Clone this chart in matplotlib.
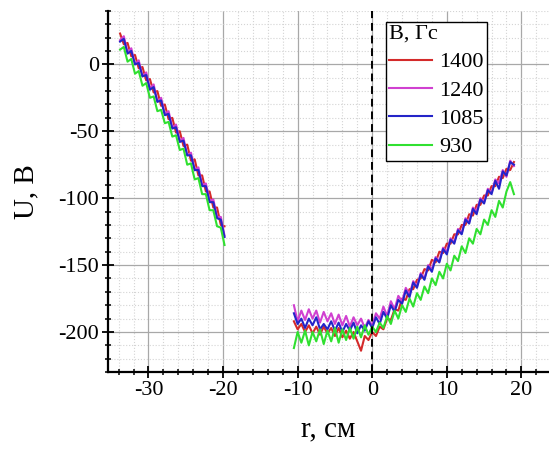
import numpy as np
import matplotlib.pyplot as plt
from matplotlib.ticker import MultipleLocator

plt.rcParams["font.family"] = ["Liberation Serif", "DejaVu Serif"]
plt.rcParams["axes.unicode_minus"] = False

# field values (legend)
fields = ["1400", "1240", "1085", "930"]
colors = ["#d42a2a", "#d040d0", "#2424c8", "#30e030"]

# left branch, r from -33.8 to -19.8 cm
r_left = np.arange(-33.8, -19.75, 0.5)
u_left = {
    "1400": [23, 15, 16, 6, 7, -3, -2, -12, -11, -21, -20, -31, -30, -41, -40,
             -51, -50, -61, -60, -72, -71, -83, -83, -95, -95, -107, -107, -120, -121],
    "1240": [18, 21, 9, 12, 0, 3, -9, -6, -18, -15, -28, -25, -37, -35, -47,
             -45, -57, -55, -68, -66, -79, -77, -90, -89, -102, -101, -114, -114, -128],
    "1085": [17, 19, 8, 10, 0, 1, -9, -8, -19, -17, -28, -27, -38, -37, -48,
             -47, -58, -57, -68, -68, -79, -79, -91, -91, -103, -103, -115, -116, -129],
    "930": [11, 13, 2, 4, -7, -5, -16, -14, -25, -24, -35, -34, -44, -43, -54,
            -53, -64, -63, -75, -74, -86, -85, -97, -97, -109, -109, -121, -122, -135],
}

# right branch, r from -10.5 to 19 cm
r_right = np.arange(-10.5, 19.01, 0.5)
u_right = {
    "1400": [-192, -198, -194, -200, -195, -201, -196, -202, -196, -201, -197, -203,
             -197, -204, -199, -205, -200, -207, -214, -203, -206,
             -200, -203, -196, -198, -190, -191, -183, -184, -175, -176, -168, -168,
             -161, -160, -153, -154, -146, -148, -140, -141, -134, -134, -127, -127,
             -120, -120, -112, -113, -105, -105, -98, -98, -91, -91, -84, -85,
             -78, -79, -73],
    "1240": [-180, -192, -184, -191, -183, -190, -184, -193, -185, -192, -186, -194,
             -187, -195, -188, -196, -189, -195, -190, -197, -191,
             -195, -186, -190, -181, -188, -177, -183, -173, -177, -167, -172, -162,
             -166, -156, -160, -150, -153, -144, -147, -137, -140, -130, -133, -123,
             -126, -115, -118, -107, -110, -100, -103, -93, -96, -86, -89, -79,
             -84, -72, -76],
    "1085": [-186, -194, -190, -197, -190, -195, -189, -198, -194, -198, -192, -199,
             -193, -200, -194, -199, -193, -201, -195, -199, -192,
             -197, -189, -194, -185, -190, -180, -185, -176, -179, -169, -174, -163,
             -167, -157, -161, -151, -155, -145, -148, -138, -142, -131, -134, -124,
             -127, -116, -119, -108, -112, -101, -104, -94, -97, -87, -93, -80,
             -83, -73, -75],
    "930": [-212, -200, -208, -199, -210, -200, -207, -198, -209, -199, -207, -197,
            -208, -198, -206, -197, -205, -196, -204, -195, -202,
            -196, -200, -193, -197, -188, -194, -184, -190, -180, -185, -175, -181,
            -171, -176, -166, -171, -160, -165, -155, -160, -149, -154, -143, -147,
            -136, -141, -130, -134, -123, -127, -116, -120, -109, -114, -102, -107,
            -95, -88, -97],
}

fig = plt.figure(figsize=(5.49, 4.5), dpi=100)
ax = fig.add_axes([0.197, 0.173, 0.803, 0.803])

for f, c in zip(fields, colors):
    ax.plot(r_left, u_left[f], color=c, lw=1.5, label=f)
    ax.plot(r_right, u_right[f], color=c, lw=1.5)

ax.axvline(0, color="black", ls="--", lw=1.4, dashes=(4, 2.5))

ax.set_xlim(-35.4, 23.7)
ax.set_ylim(-230, 40)
ax.set_xticks([-30, -20, -10, 0, 10, 20])
ax.set_yticks([0, -50, -100, -150, -200])
ax.xaxis.set_minor_locator(MultipleLocator(2))
ax.yaxis.set_minor_locator(MultipleLocator(10))

ax.grid(True, which="major", color="#a8a8a8", lw=0.9)
ax.grid(True, which="minor", color="#d4d4d4", lw=0.8, ls=":")
ax.set_axisbelow(True)

ax.spines["top"].set_visible(False)
ax.spines["right"].set_visible(False)
ax.spines["left"].set_linewidth(1.6)
ax.spines["bottom"].set_linewidth(1.6)
ax.tick_params(which="major", direction="inout", length=9, width=1.3,
               labelsize=16, pad=2)
ax.tick_params(which="minor", direction="inout", length=5, width=1.1)

ax.set_xlabel("r, см", fontsize=21, labelpad=12)
ax.set_ylabel("U, B", fontsize=21, labelpad=14)

leg = ax.legend(title="B, Гс", loc="upper right", bbox_to_anchor=(0.86, 0.97),
                borderaxespad=0, fontsize=16, title_fontsize=16, alignment="left",
                frameon=True, fancybox=False, edgecolor="black", framealpha=1,
                handlelength=1.9, handletextpad=0.35, labelspacing=0.35,
                borderpad=0.15)
leg.get_frame().set_linewidth(1.0)

fig.savefig("out.png", dpi=100)
